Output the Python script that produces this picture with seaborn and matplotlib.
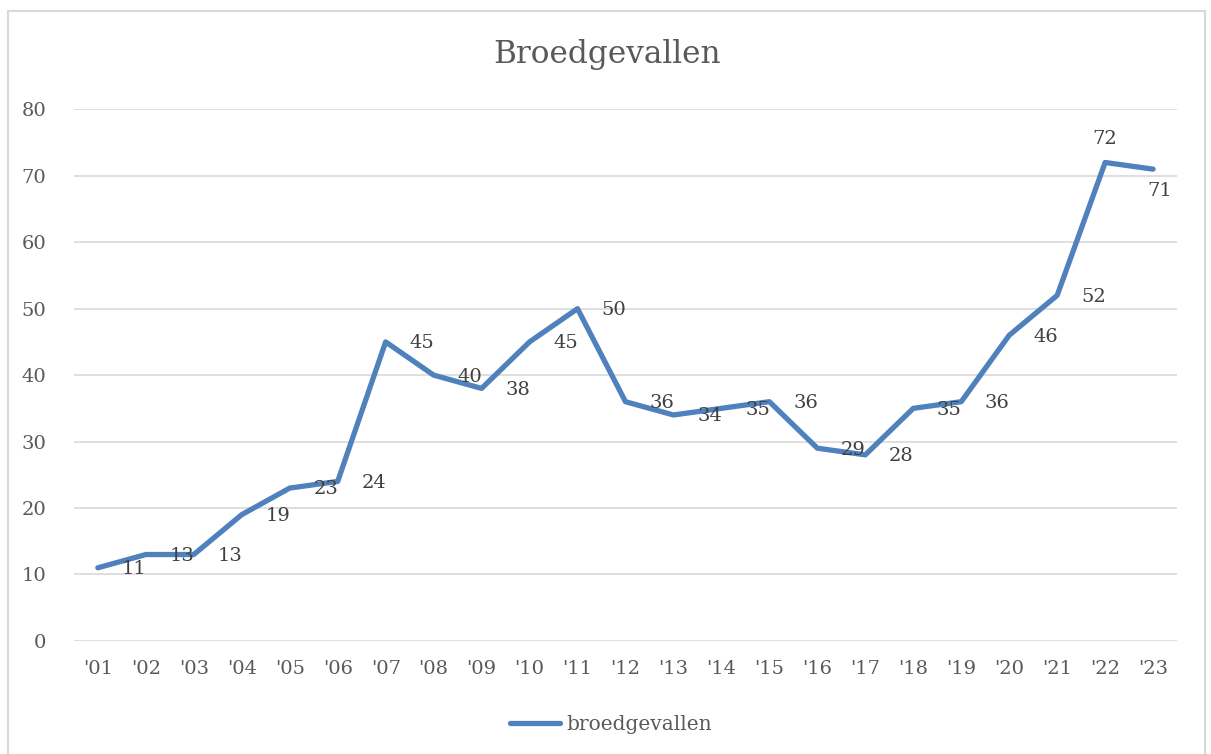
import matplotlib.pyplot as plt
import pandas as pd
import seaborn as sns
from matplotlib.patches import Rectangle

# values
years = ["'01", "'02", "'03", "'04", "'05", "'06", "'07", "'08", "'09", "'10", "'11", "'12",
         "'13", "'14", "'15", "'16", "'17", "'18", "'19", "'20", "'21", "'22", "'23"]
broedgevallen = [11, 13, 13, 19, 23, 24, 45, 40, 38, 45, 50, 36,
                 34, 35, 36, 29, 28, 35, 36, 46, 52, 72, 71]

df = pd.DataFrame({'jaar': years, 'broedgevallen': broedgevallen})

sns.set_theme(style="white")
plt.rcParams['font.family'] = ['DejaVu Serif']

fig = plt.figure(figsize=(12.11, 7.54), dpi=100)
ax = fig.add_axes([0.061, 0.150, 0.911, 0.705])

sns.lineplot(data=df, x='jaar', y='broedgevallen', ax=ax, color='#4F81BD',
             linewidth=3.8, label='broedgevallen', sort=False)

# data labels, mostly shifted to the right of the point
for i, v in enumerate(broedgevallen):
    if i == 21:
        off = (0, 17)
    elif i == 22:
        off = (5, -16)
    else:
        off = (26, -1)
    ax.annotate(str(v), xy=(i, v), xytext=off, textcoords='offset points',
                ha='center', va='center', fontsize=14, color='#404040')

ax.set_xlim(-0.5, len(years) - 0.5)
ax.set_ylim(0, 80)
ax.set_yticks(range(0, 81, 10))
ax.grid(axis='y', color='#D9D9D9', linewidth=1.2)
ax.grid(axis='x', visible=False)
for s in ax.spines.values():
    s.set_visible(False)
ax.tick_params(axis='both', length=0, labelsize=14, labelcolor='#595959')
ax.tick_params(axis='x', pad=14)
ax.tick_params(axis='y', pad=20)
ax.set_xlabel('')
ax.set_ylabel('')

fig.suptitle('Broedgevallen', x=0.501, y=0.948, fontsize=22.5, color='#595959')

ax.legend(loc='center', bbox_to_anchor=(0.487, -0.157), frameon=False, fontsize=14.5,
          labelcolor='#595959', handlelength=2.5, handletextpad=0.3)

fig.add_artist(Rectangle((8 / 1211, -0.01), 1197 / 1211, 1 - 11 / 754 + 0.01,
                         transform=fig.transFigure, fill=False,
                         edgecolor='#D9D9D9', linewidth=1.5))

fig.savefig('out.png', dpi=100)
